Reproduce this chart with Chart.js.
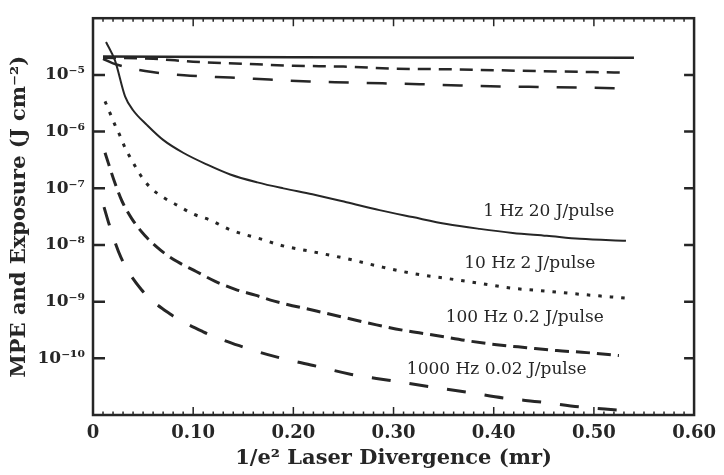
<!DOCTYPE html>
<html>
<head>
<meta charset="utf-8">
<script src="https://cdn.jsdelivr.net/npm/chart.js@4.4.1/dist/chart.umd.min.js"></script>
<style>
  html, body { margin: 0; padding: 0; background: #fff; }
  canvas { display: block; }
</style>
</head>
<body>
<canvas id="mpeChart" width="724" height="475"></canvas>
<script>
// axis ticks
const yTickValues = [1e-5, 1e-6, 1e-7, 1e-8, 1e-9, 1e-10];
const yTickLabels = ['10⁻⁵', '10⁻⁶', '10⁻⁷', '10⁻⁸', '10⁻⁹', '10⁻¹⁰'];
const xTickLabels = ['0', '0.10', '0.20', '0.30', '0.40', '0.50', '0.60'];

// MPE curves (top of the plot)
const mpeSolidX = [0.01, 0.2, 0.4, 0.54];
const mpeSolidY = [2.1e-5, 2.05e-5, 2.02e-5, 2.0e-5];
const mpeShortX = [0.01, 0.06, 0.1, 0.15, 0.2, 0.25, 0.3, 0.35, 0.4, 0.45, 0.5, 0.53];
const mpeShortY = [2.0e-5, 1.92e-5, 1.71e-5, 1.57e-5, 1.45e-5, 1.40e-5, 1.29e-5, 1.26e-5, 1.21e-5, 1.16e-5, 1.12e-5, 1.10e-5];
const mpeLongX = [0.01, 0.02, 0.059, 0.097, 0.137, 0.176, 0.216, 0.256, 0.289, 0.326, 0.366, 0.406, 0.444, 0.483, 0.52, 0.533];
const mpeLongY = [1.92e-5, 1.6e-5, 1.12e-5, 9.7e-6, 8.97e-6, 8.28e-6, 7.64e-6, 7.35e-6, 7.1e-6, 6.85e-6, 6.5e-6, 6.25e-6, 6.12e-6, 6.0e-6, 5.8e-6, 5.77e-6];

// exposure curves
const hz1X = [0.013, 0.022, 0.032, 0.04, 0.054, 0.07, 0.09, 0.114, 0.137, 0.164, 0.19, 0.219, 0.253, 0.286, 0.319, 0.353, 0.386, 0.419, 0.453, 0.486, 0.532];
const hz1Y = [3.81e-5, 1.78e-5, 4.18e-6, 2.38e-6, 1.30e-6, 7.13e-7, 4.23e-7, 2.61e-7, 1.75e-7, 1.27e-7, 9.96e-8, 7.83e-8, 5.68e-8, 4.11e-8, 3.10e-8, 2.34e-8, 1.92e-8, 1.63e-8, 1.45e-8, 1.28e-8, 1.18e-8];
const hz10X = [0.012, 0.017, 0.022, 0.027, 0.032, 0.039, 0.047, 0.057, 0.07, 0.084, 0.1, 0.117, 0.137, 0.169, 0.188, 0.219, 0.253, 0.286, 0.319, 0.353, 0.386, 0.419, 0.453, 0.486, 0.532];
const hz10Y = [3.42e-6, 2.11e-6, 1.30e-6, 8.38e-7, 5.18e-7, 3.07e-7, 1.75e-7, 1.04e-7, 6.94e-8, 5.03e-8, 3.51e-8, 2.75e-8, 1.85e-8, 1.25e-8, 9.8e-9, 7.6e-9, 5.74e-9, 4.17e-9, 3.14e-9, 2.57e-9, 2.1e-9, 1.72e-9, 1.53e-9, 1.35e-9, 1.15e-9];
const hz100X = [0.012, 0.022, 0.029, 0.039, 0.052, 0.068, 0.084, 0.103, 0.122, 0.142, 0.162, 0.181, 0.223, 0.253, 0.283, 0.313, 0.344, 0.373, 0.403, 0.433, 0.463, 0.493, 0.525];
const hz100Y = [4.23e-7, 1.22e-7, 5.9e-8, 2.86e-8, 1.45e-8, 7.93e-9, 5.09e-9, 3.4e-9, 2.28e-9, 1.65e-9, 1.3e-9, 1.02e-9, 6.83e-10, 5.15e-10, 3.89e-10, 3.05e-10, 2.5e-10, 2.05e-10, 1.74e-10, 1.54e-10, 1.37e-10, 1.26e-10, 1.12e-10];
const hz1000X = [0.011, 0.016, 0.028, 0.048, 0.077, 0.11, 0.146, 0.182, 0.22, 0.258, 0.295, 0.333, 0.373, 0.41, 0.448, 0.487, 0.523];
const hz1000Y = [4.65e-8, 2.34e-8, 5.98e-9, 1.65e-9, 6.05e-10, 2.94e-10, 1.67e-10, 1.07e-10, 7.48e-11, 5.2e-11, 4.1e-11, 3.22e-11, 2.53e-11, 1.99e-11, 1.69e-11, 1.38e-11, 1.23e-11];

// curve labels, anchored in data units
const curveLabels = ['1 Hz 20 J/pulse', '10 Hz 2 J/pulse', '100 Hz 0.2 J/pulse', '1000 Hz 0.02 J/pulse'];
const labelX = [0.455, 0.436, 0.431, 0.403];
const labelY = [3.8e-8, 4.7e-9, 5.15e-10, 6.4e-11];

const ink = '#262626';
const serif = '"DejaVu Serif", "Liberation Serif", serif';

function pts(xs, ys) {
  return xs.map((x, i) => ({ x: x, y: ys[i] }));
}

function line(xs, ys, width, dash) {
  return {
    data: pts(xs, ys),
    showLine: true,
    borderColor: ink,
    borderWidth: width,
    borderDash: dash,
    pointRadius: 0,
    fill: false,
    cubicInterpolationMode: 'monotone'
  };
}

// frame, inward ticks and the curve labels
const framePlugin = {
  id: 'frame',
  afterDraw(chart) {
    const { ctx, chartArea: a, scales: { x, y } } = chart;
    ctx.save();
    ctx.strokeStyle = ink;
    ctx.lineWidth = 2.5;
    ctx.strokeRect(a.left, a.top, a.right - a.left, a.bottom - a.top);

    ctx.lineWidth = 1.5;
    for (let i = 0; i <= 60; i++) {
      const px = x.getPixelForValue(i / 100);
      const len = i % 10 === 0 ? 8 : 3.5;
      ctx.beginPath();
      ctx.moveTo(px, a.bottom); ctx.lineTo(px, a.bottom - len);
      ctx.moveTo(px, a.top); ctx.lineTo(px, a.top + len);
      ctx.stroke();
    }
    ctx.lineWidth = 2.5;
    yTickValues.forEach(v => {
      const py = y.getPixelForValue(v);
      ctx.beginPath();
      ctx.moveTo(a.left, py); ctx.lineTo(a.left + 12, py);
      ctx.moveTo(a.right, py); ctx.lineTo(a.right - 10, py);
      ctx.stroke();
    });

    ctx.fillStyle = ink;
    ctx.font = '17px ' + serif;
    ctx.textAlign = 'center';
    ctx.textBaseline = 'middle';
    curveLabels.forEach((t, i) => {
      ctx.fillText(t, x.getPixelForValue(labelX[i]), y.getPixelForValue(labelY[i]));
    });
    ctx.restore();
  }
};

const myChart = new Chart(document.getElementById('mpeChart'), {
  type: 'scatter',
  data: {
    datasets: [
      line(mpeSolidX, mpeSolidY, 2.5, []),
      line(mpeShortX, mpeShortY, 2.5, [13, 8]),
      line(mpeLongX, mpeLongY, 2.5, [20, 18]),
      line(hz1X, hz1Y, 2, []),
      line(hz10X, hz10Y, 3, [3.5, 8]),
      line(hz100X, hz100Y, 3, [14, 7]),
      line(hz1000X, hz1000Y, 3, [19, 19])
    ]
  },
  options: {
    responsive: false,
    animation: false,
    layout: { padding: { top: 14, right: 29, left: 0, bottom: 0 } },
    plugins: { legend: false, tooltip: false },
    scales: {
      x: {
        type: 'linear',
        min: 0,
        max: 0.6,
        grid: { display: false, drawTicks: false },
        border: { display: false },
        ticks: {
          stepSize: 0.1,
          padding: 8,
          color: ink,
          font: { family: serif, size: 18, weight: 'bold' },
          callback: (v, i) => xTickLabels[i]
        },
        title: {
          display: true,
          text: '1/e² Laser Divergence (mr)',
          color: ink,
          font: { family: serif, size: 21, weight: 'bold' },
          padding: { top: 0, bottom: 4 }
        },
        afterFit: s => { s.height = 60; }
      },
      y: {
        type: 'logarithmic',
        min: 1e-11,
        max: 1e-4,
        grid: { display: false, drawTicks: false },
        border: { display: false },
        afterBuildTicks: s => { s.ticks = yTickValues.map(v => ({ value: v })); },
        ticks: {
          padding: 8,
          color: ink,
          font: { family: serif, size: 17, weight: 'bold' },
          callback: (v, i) => yTickLabels[i]
        },
        title: {
          display: true,
          text: 'MPE and Exposure (J cm⁻²)',
          color: ink,
          font: { family: serif, size: 21, weight: 'bold' },
          padding: { top: 7, bottom: 0 }
        },
        afterFit: s => { s.width = 93; }
      }
    }
  },
  plugins: [framePlugin]
});
</script>
</body>
</html>
